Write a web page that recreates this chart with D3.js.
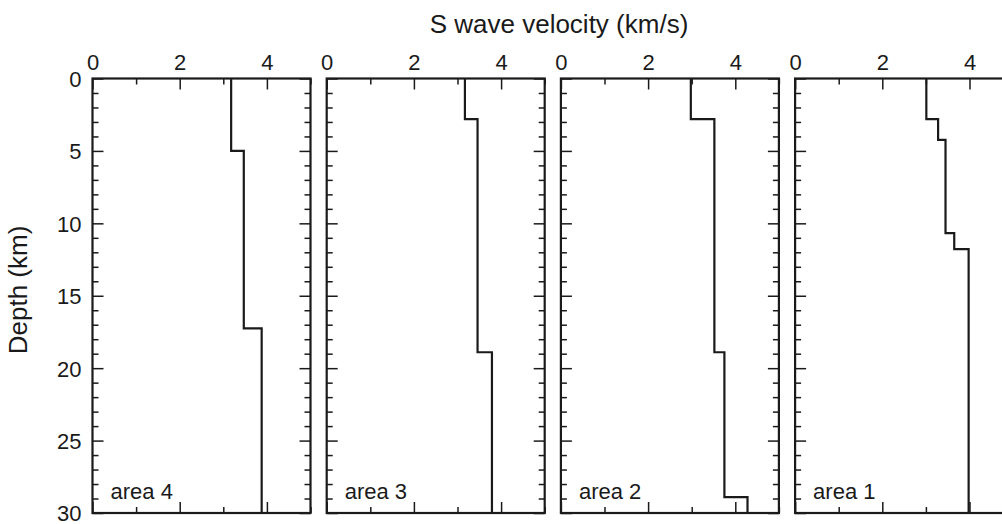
<!DOCTYPE html>
<html>
<head>
<meta charset="utf-8">
<script src="https://cdn.jsdelivr.net/npm/d3@7"></script>
<style>
  body { margin: 0; background: #fff; }
  svg { display: block; font-family: "Liberation Sans", Arial, Helvetica, sans-serif; }
</style>
</head>
<body>
<svg id="chart" width="1002" height="524"></svg>
<script>
// panels, left to right
var areaNames = ['area 4', 'area 3', 'area 2', 'area 1'];
// layer boundaries (km) and S wave velocity (km/s) for each panel
var area4Depths = [0, 5, 17.25, 30];
var area4Vs     = [3.18, 3.47, 3.88];
var area3Depths = [0, 2.8, 18.9, 30];
var area3Vs     = [3.17, 3.46, 3.79];
var area2Depths = [0, 2.8, 18.9, 28.9, 30];
var area2Vs     = [2.98, 3.52, 3.75, 4.28];
var area1Depths = [0, 2.8, 4.24, 10.68, 11.78, 30];
var area1Vs     = [3.01, 3.28, 3.45, 3.65, 3.98];

var depthsList = [area4Depths, area3Depths, area2Depths, area1Depths];
var vsList = [area4Vs, area3Vs, area2Vs, area1Vs];

var xMajor = [0, 2, 4];
var xMinor = [1, 3, 5];
var yMajor = [0, 5, 10, 15, 20, 25, 30];
var yMinor = d3.range(0, 31).filter(function(d){ return d % 5 !== 0; });

var yTop = 78.5, yBottom = 513;
var panelW = 218, left0 = 92.5, step = 234.2;
var ink = '#1a1a1a';

var svg = d3.select('#chart');

var y = d3.scaleLinear().domain([0, 30]).range([yTop, yBottom]);

depthsList.forEach(function(depths, i){
  var x0 = left0 + i * step;
  var x = d3.scaleLinear().domain([0, 5]).range([x0, x0 + panelW]);
  var g = svg.append('g');

  // top axis with labels
  g.append('g')
    .attr('transform', 'translate(0,' + yTop + ')')
    .call(d3.axisTop(x).tickValues(xMajor).tickSize(-11).tickPadding(9).tickFormat(d3.format('d')));
  g.append('g')
    .attr('transform', 'translate(0,' + yTop + ')')
    .call(d3.axisTop(x).tickValues(xMinor).tickSize(-6).tickFormat(''));
  // bottom axis
  g.append('g')
    .attr('transform', 'translate(0,' + yBottom + ')')
    .call(d3.axisBottom(x).tickValues(xMajor).tickSize(-11).tickFormat(''));
  g.append('g')
    .attr('transform', 'translate(0,' + yBottom + ')')
    .call(d3.axisBottom(x).tickValues(xMinor).tickSize(-6).tickFormat(''));

  // left and right depth ticks
  var leftAx = g.append('g')
    .attr('transform', 'translate(' + x0 + ',0)')
    .call(d3.axisLeft(y).tickValues(yMajor).tickSize(-11).tickPadding(11)
      .tickFormat(i === 0 ? d3.format('d') : ''));
  g.append('g')
    .attr('transform', 'translate(' + x0 + ',0)')
    .call(d3.axisLeft(y).tickValues(yMinor).tickSize(-6).tickFormat(''));
  g.append('g')
    .attr('transform', 'translate(' + (x0 + panelW) + ',0)')
    .call(d3.axisRight(y).tickValues(yMajor).tickSize(-11).tickFormat(''));
  g.append('g')
    .attr('transform', 'translate(' + (x0 + panelW) + ',0)')
    .call(d3.axisRight(y).tickValues(yMinor).tickSize(-6).tickFormat(''));

  g.selectAll('.domain').remove();
  g.selectAll('.tick line').attr('stroke', ink).attr('stroke-width', 1.5);
  g.selectAll('.tick text').attr('fill', ink).attr('font-size', 22)
    .attr('font-family', '"Liberation Sans", Arial, sans-serif');
  leftAx.selectAll('.tick text').attr('dy', '0.36em');

  // frame
  g.append('rect')
    .attr('x', x0).attr('y', yTop)
    .attr('width', panelW).attr('height', yBottom - yTop)
    .attr('fill', 'none').attr('stroke', ink).attr('stroke-width', 2.2);

  // step profile
  var vs = vsList[i];
  var pts = [];
  vs.forEach(function(v, k){
    pts.push([v, depths[k]]);
    pts.push([v, depths[k + 1]]);
  });
  var line = d3.line()
    .x(function(d){ return x(d[0]); })
    .y(function(d){ return y(d[1]); });
  g.append('path')
    .attr('d', line(pts))
    .attr('fill', 'none').attr('stroke', ink).attr('stroke-width', 2.2)
    .attr('stroke-linejoin', 'miter');

  g.append('text')
    .attr('x', x0 + 18).attr('y', yBottom - 14)
    .attr('font-size', 22).attr('fill', ink)
    .text(areaNames[i]);
});

svg.append('text')
  .attr('x', 559).attr('y', 33)
  .attr('text-anchor', 'middle')
  .attr('font-size', 26).attr('fill', ink)
  .text('S wave velocity (km/s)');

svg.append('text')
  .attr('transform', 'translate(27,290) rotate(-90)')
  .attr('text-anchor', 'middle')
  .attr('font-size', 26).attr('fill', ink)
  .text('Depth (km)');
</script>
</body>
</html>
